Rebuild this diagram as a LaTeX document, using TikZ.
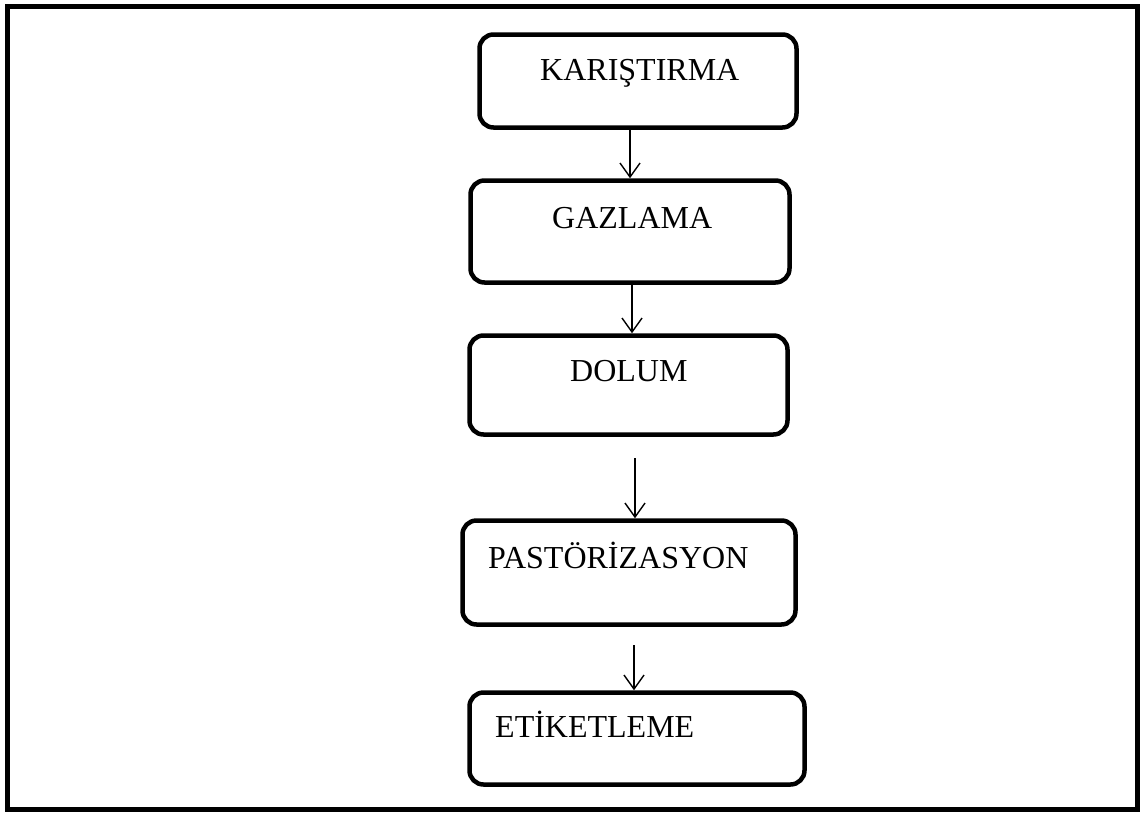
\documentclass[tikz,border=0pt]{standalone}
\usepackage{fontspec}
\setmainfont{Liberation Serif}
\usetikzlibrary{arrows.meta}
\begin{document}
\begin{tikzpicture}[x=1pt,y=-1pt,
  stepbox/.style={draw, line width=4.5pt, rounded corners=14pt, inner sep=0pt, minimum width=#1},
  lbl/.style={anchor=base west, inner sep=0pt, font=\fontsize{32}{38}\selectfont},
  arr/.style={line width=1.4pt, -{Straight Barb[length=14pt,width=20pt,line width=1.4pt]}}]
\useasboundingbox (0,0) rectangle (1141,812);
\node[draw, line width=4.5pt, minimum width=1130pt, minimum height=803pt, inner sep=0pt] (frame) at (572.5,408) {};
\node[stepbox=317pt, minimum height=93pt] (b1) at (638,81) {};
\node[stepbox=319pt, minimum height=102pt] (b2) at (630,231.5) {};
\node[stepbox=318pt, minimum height=99pt] (b3) at (628.5,385) {};
\node[stepbox=333pt, minimum height=104pt] (b4) at (629,572.5) {};
\node[stepbox=335pt, minimum height=92pt] (b5) at (637,738.5) {};
\node[lbl] (t1) at (540,80) {KARIŞTIRMA};
\node[lbl] (t2) at (552,228) {GAZLAMA};
\node[lbl] (t3) at (570,381) {DOLUM};
\node[lbl] (t4) at (488,568) {PASTÖRİZASYON};
\node[lbl] (t5) at (495,737) {ETİKETLEME};
\coordinate (x1) at (630,0);
\coordinate (x2) at (632,0);
\coordinate (s3) at (635,458);
\coordinate (s4) at (634,645);
\draw[arr] (b1.south -| x1) -- (b2.north -| x1);
\draw[arr] (b2.south -| x2) -- (b3.north -| x2);
\draw[arr] (s3) -- (b4.north -| s3);
\draw[arr] (s4) -- (b5.north -| s4);
\end{tikzpicture}
\end{document}
